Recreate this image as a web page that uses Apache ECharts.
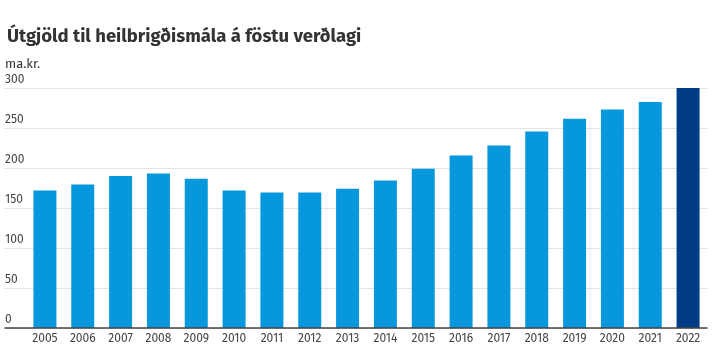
<!DOCTYPE html>
<html><head><meta charset="utf-8">
<script src="https://cdn.jsdelivr.net/npm/echarts@6/dist/echarts.min.js"></script>
<style>html,body{margin:0;padding:0;background:#fff}#c{width:713px;height:359px}</style>
</head><body><div id="c"></div>
<script>
const titleText = 'Útgjöld til heilbrigðismála á föstu verðlagi';
const unitText = 'ma.kr.';
const categories = ['2005','2006','2007','2008','2009','2010','2011','2012','2013','2014','2015','2016','2017','2018','2019','2020','2021','2022'];
const values = [172,179.5,190,193,186.5,172,169.5,169.5,174,184.5,199,215.5,228,245.5,261.5,273,282.5,300];
const yTicks = [0,50,100,150,200,250,300];
const highlightYear = '2022';

const chart = echarts.init(document.getElementById('c'), null, {renderer:'canvas'});
const font = "'Fira Sans','Noto Sans',sans-serif";
chart.setOption({
  animation:false,
  backgroundColor:'#fff',
  title:[
    {text:titleText,left:7,top:27.5,padding:0,textStyle:{fontFamily:font,fontSize:18.5,fontWeight:'bold',color:'#333'}},
    {text:unitText,left:5,top:58,padding:0,textStyle:{fontFamily:font,fontSize:13,fontWeight:'normal',color:'#333'}}
  ],
  grid:[
    {left:5,right:6,top:88,bottom:31,containLabel:false},
    {left:26,right:6,top:88,bottom:31,containLabel:false}
  ],
  xAxis:[
    {type:'category',gridIndex:0,data:categories,axisLine:{show:true,lineStyle:{color:'#444',width:1.5}},axisTick:{show:false},axisLabel:{show:false},splitLine:{show:false},z:5},
    {type:'category',gridIndex:1,data:categories,axisLine:{show:false},axisTick:{show:false},
      axisLabel:{color:'#444',fontFamily:font,fontSize:12,margin:5}}
  ],
  yAxis:[
    {type:'value',gridIndex:0,min:yTicks[0],max:yTicks[yTicks.length-1],interval:50,
      axisLine:{show:false},axisTick:{show:false},
      axisLabel:{inside:true,margin:0,verticalAlign:'bottom',padding:[0,0,2,0],color:'#444',fontFamily:font,fontSize:12},
      splitLine:{lineStyle:{color:'#e3e3e3',width:1}}},
    {type:'value',gridIndex:1,min:yTicks[0],max:yTicks[yTicks.length-1],interval:50,show:false}
  ],
  series:[{
    type:'bar',xAxisIndex:1,yAxisIndex:1,barWidth:23,
    data:values.map((v,i)=>({value:v,itemStyle:{color:categories[i]===highlightYear?'#003c86':'#0797dc'}}))
  }]
});
</script></body></html>
